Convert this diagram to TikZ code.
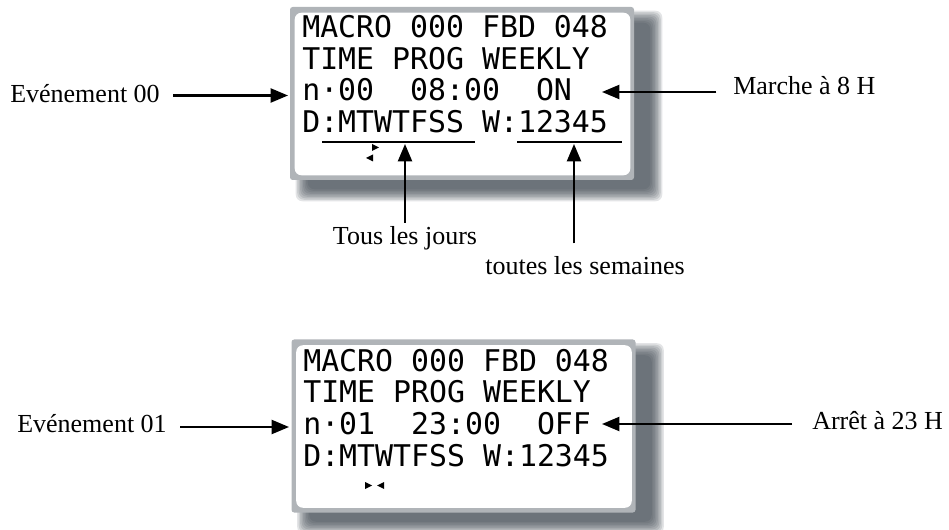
\documentclass[tikz,border=0pt]{standalone}
\usepackage{fontspec}
\setmainfont{Liberation Serif}
\newfontfamily\lcdfont{DejaVu Sans Mono}
\usepackage{tikz}
\usetikzlibrary{arrows.meta,positioning,calc,backgrounds}
\definecolor{LcdFrame}{HTML}{B0B4B8}
\definecolor{LcdShadow}{HTML}{3A434C}
\tikzset{
  lcdbox/.style={fill=LcdFrame, inner sep=0pt, rounded corners=2pt,
    minimum width=258pt, minimum height=129.75pt},
  lcdrow/.style={anchor=base west, inner sep=0pt,
    font=\lcdfont\fontsize{22.4}{26}\selectfont},
  callout/.style={inner sep=0pt, font=\fontsize{19.5}{23}\selectfont},
  wire/.style={-{Triangle[length=13pt, width=10.5pt]}, line width=1.6pt},
  uline/.style={line width=1.6pt},
  cursor/.style={fill=black}
}

\begin{document}
\begin{tikzpicture}[x=0.75pt, y=-0.75pt]
  \useasboundingbox (0,0) rectangle (949,530);

  % first event : switch on
  \node[lcdbox] (lcd0) at (462,93.5) {};
  \fill[white, rounded corners=5pt] ([shift={(5,6)}]lcd0.north west)
    rectangle ([shift={(-4,-5)}]lcd0.south east);
  \node[lcdrow] (r01) at (302,38) {MACRO 000 FBD 048};
  \node[lcdrow] (r02) at (302,69.5) {TIME PROG WEEKLY};
  \node[lcdrow] (r03) at (302,101) {n·00~~08:00~~ON};
  \node[lcdrow] (r04) at (302,132.5) {D:MTWTFSS W:12345};
  \draw[uline] (322,142) -- (475,142);
  \draw[uline] (517,142) -- (622,142);
  \fill[cursor] (372,144) -- (372,151) -- (379,147.5) -- cycle;
  \fill[cursor] (373,154.5) -- (373,161.5) -- (366,158) -- cycle;

  \node[callout, anchor=base west] (ev0) at (10,103) {Evénement 00};
  \node[callout, anchor=base west] (mar0) at (733,95) {Marche à 8 H};
  \node[callout, anchor=base] (jours) at (405,245) {Tous les jours};
  \node[callout, anchor=base] (sem0) at (585,275) {toutes les semaines};
  \coordinate (n00) at (288,95.5);
  \coordinate (on0) at (602,92);
  \coordinate (day0) at (405,144);
  \coordinate (wk0) at (574,144);
  \draw[wire, shorten <=10pt] (ev0.east |- n00) -- (n00);
  \draw[wire, shorten <=12.5pt] (mar0.west |- on0) -- (on0);
  \draw[wire, shorten <=3pt] (jours.north -| day0) -- (day0);
  \draw[wire, shorten <=10pt] (wk0 |- sem0.north) -- (wk0);

  % second event : switch off
  \node[lcdbox] (lcd1) at (463.5,426) {};
  \fill[white, rounded corners=5pt] ([shift={(5,6)}]lcd1.north west)
    rectangle ([shift={(-4,-5)}]lcd1.south east);
  \node[lcdrow] (r11) at (303,372) {MACRO 000 FBD 048};
  \node[lcdrow] (r12) at (303,403) {TIME PROG WEEKLY};
  \node[lcdrow] (r13) at (303,434.5) {n·01~~23:00~~OFF};
  \node[lcdrow] (r14) at (303,466) {D:MTWTFSS W:12345};
  \fill[cursor] (365,482) -- (365,489) -- (372,485.5) -- cycle;
  \fill[cursor] (384,482) -- (384,489) -- (377,485.5) -- cycle;

  \node[callout, anchor=base west] (ev1) at (17,433) {Evénement 01};
  \node[callout, anchor=base west] (arr1) at (812,430) {Arrêt à 23 H};
  \coordinate (n01) at (289,427);
  \coordinate (off1) at (602,424);
  \draw[wire, shorten <=10pt] (ev1.east |- n01) -- (n01);
  \draw[wire, shorten <=15pt] (arr1.west |- off1) -- (off1);

  % soft shadows under both screens
  \begin{scope}[on background layer]
    \foreach \s in {lcd0,lcd1}
      \foreach \i in {0,...,8}
        \fill[LcdShadow, opacity=0.14, rounded corners=5pt]
          ([shift={({6+1.5*\i},{4+1.5*\i})}]\s.north west) rectangle
          ([shift={({28-1.5*\i},{21-1.5*\i})}]\s.south east);
  \end{scope}
\end{tikzpicture}
\end{document}
